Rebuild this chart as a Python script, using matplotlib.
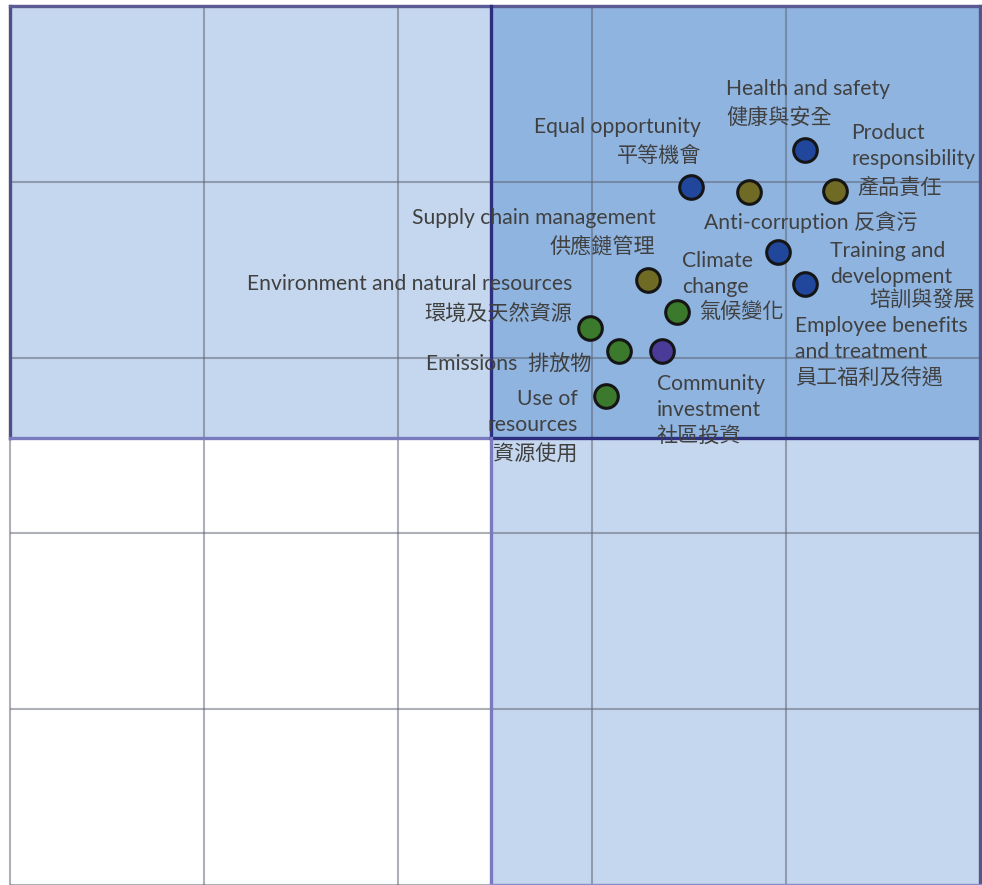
import matplotlib
matplotlib.use("Agg")
import matplotlib.pyplot as plt
from matplotlib.patches import Rectangle

plt.rcParams['font.family'] = ['Lato', 'Noto Sans CJK TC', 'DejaVu Sans']

# ---- data ----
topics = ["Health and safety", "Equal opportunity", "Anti-corruption", "Product responsibility",
          "Training and development", "Employee benefits and treatment", "Supply chain management",
          "Climate change", "Environment and natural resources", "Emissions",
          "Community investment", "Use of resources"]
x_importance = [4.10, 3.51, 3.81, 4.25, 3.96, 4.10, 3.29, 3.44, 2.99, 3.14, 3.36, 3.07]
y_importance = [4.18, 3.97, 3.94, 3.95, 3.60, 3.42, 3.44, 3.26, 3.17, 3.04, 3.04, 2.78]
groups = ["social", "social", "governance", "governance", "social", "social", "governance",
          "environment", "environment", "environment", "community", "environment"]
x_threshold = 2.48
y_threshold = 2.54

group_colors = {"social": "#21479c", "governance": "#6f6b25",
                "environment": "#3b7a2c", "community": "#4a3b98"}

# label lines: (text, dx_px, dy_px (down positive), ha)
labels = [
    [("Health and safety", -79, -63, "left"), ("健康與安全", -79, -34, "left")],
    [("Equal opportunity", 10, -62, "right"), ("平等機會", 10, -33, "right")],
    [("Anti-corruption 反貪污", -45, 28, "left")],
    [("Product", 17, -60, "left"), ("responsibility", 17, -34, "left"), ("產品責任", 23, -5, "left")],
    [("Training and", 52, -3, "left"), ("development", 52, 23, "left"), ("培訓與發展", 197, 47, "right")],
    [("Employee benefits", -10, 40, "left"), ("and treatment", -10, 66, "left"),
     ("員工福利及待遇", -10, 93, "left")],
    [("Supply chain management", 7, -64, "right"), ("供應鏈管理", 7, -36, "right")],
    [("Climate", 5, -53, "left"), ("change", 5, -27, "left"), ("氣候變化", 22, -1, "left")],
    [("Environment and natural resources", -18, -46, "right"), ("環境及天然資源", -18, -16, "right")],
    [("Emissions  排放物", -28, 12, "right")],
    [("Community", -5, 31, "left"), ("investment", -5, 57, "left"), ("社區投資", -5, 83, "left")],
    [("Use of", -28, 1, "right"), ("resources", -28, 27, "right"), ("資源使用", -28, 56, "right")],
]

W, H = 982, 885
fig = plt.figure(figsize=(W / 100, H / 100), dpi=100)
ax = fig.add_axes([10 / W, 0, 970 / W, 879 / H])
ax.set_xlim(0, 5)
ax.set_ylim(0, 5)
ax.axis("off")

light = "#c5d7ee"
dark = "#8fb4e0"
ax.add_patch(Rectangle((0, y_threshold), 5, 5 - y_threshold, facecolor=light, edgecolor="none", zorder=1))
ax.add_patch(Rectangle((x_threshold, 0), 5 - x_threshold, 5, facecolor=light, edgecolor="none", zorder=1))
ax.add_patch(Rectangle((x_threshold, y_threshold), 5 - x_threshold, 5 - y_threshold,
                       facecolor=dark, edgecolor="none", zorder=1))

# grid
for v in range(6):
    ax.plot([v, v], [0, 5], color="#5c6270", alpha=0.5, lw=1.5, zorder=2, clip_on=False,
            solid_capstyle="butt")
    ax.plot([0, 5], [v, v], color="#5c6270", alpha=0.5, lw=1.5, zorder=2, clip_on=False,
            solid_capstyle="butt")

# borders
bw = 2.4
ax.plot([0, 0], [y_threshold, 5], color="#4e4e88", lw=bw, zorder=3, clip_on=False)
ax.plot([0, 5], [5, 5], color="#5a5a94", lw=bw, zorder=3, clip_on=False)
ax.plot([0, x_threshold], [y_threshold, y_threshold], color="#7a7abf", lw=bw, zorder=3, clip_on=False)
ax.plot([x_threshold, 5], [y_threshold, y_threshold], color="#2e2e80", lw=bw, zorder=3, clip_on=False)
ax.plot([x_threshold, x_threshold], [y_threshold, 5], color="#2e2e80", lw=bw, zorder=3, clip_on=False)
ax.plot([x_threshold, x_threshold], [0, y_threshold], color="#7a7abf", lw=bw, zorder=3, clip_on=False)
ax.plot([5, 5], [0, 5], color="#55558a", lw=bw, zorder=3, clip_on=False)
ax.plot([x_threshold, 5], [0, 0], color="#8a8ac8", lw=bw, zorder=3, clip_on=False)

# points
for xi, yi, g in zip(x_importance, y_importance, groups):
    ax.plot(xi, yi, "o", markersize=17, markerfacecolor=group_colors[g],
            markeredgecolor="#151515", markeredgewidth=2.2, zorder=5)

# labels
for xi, yi, lines in zip(x_importance, y_importance, labels):
    for text, dx, dy, ha in lines:
        ax.annotate(text, (xi, yi), xytext=(dx, -(dy + 2)), textcoords="offset pixels",
                    ha=ha, va="center", fontsize=15.2, color="#404040", zorder=6)

fig.savefig("out.png", dpi=100)
